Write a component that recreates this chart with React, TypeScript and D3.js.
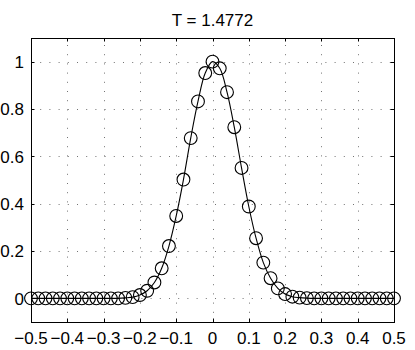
import React from "react";
import * as d3 from "d3";

const title = "T = 1.4772";

const xValues = [
  -0.5, -0.48, -0.46, -0.44, -0.42, -0.4, -0.38, -0.36, -0.34, -0.32, -0.3,
  -0.28, -0.26, -0.24, -0.22, -0.2, -0.18, -0.16, -0.14, -0.12, -0.1, -0.08,
  -0.06, -0.04, -0.02, 0, 0.02, 0.04, 0.06, 0.08, 0.1, 0.12, 0.14, 0.16, 0.18,
  0.2, 0.22, 0.24, 0.26, 0.28, 0.3, 0.32, 0.34, 0.36, 0.38, 0.4, 0.42, 0.44,
  0.46, 0.48, 0.5,
];

const yValues = [
  0, 0, 0, 0, 0, 0, 0, 0, 0, 0, 0, 0, 0, 0.002, 0.005, 0.014, 0.032, 0.067,
  0.127, 0.221, 0.348, 0.502, 0.677, 0.832, 0.952, 1.0, 0.972, 0.871, 0.723,
  0.551, 0.388, 0.254, 0.151, 0.085, 0.042, 0.018, 0.007, 0.003, 0.001, 0, 0,
  0, 0, 0, 0, 0, 0, 0, 0, 0, 0,
];

const xTicks = [-0.5, -0.4, -0.3, -0.2, -0.1, 0, 0.1, 0.2, 0.3, 0.4, 0.5];
const xTickLabels = ["−0.5", "−0.4", "−0.3", "−0.2", "−0.1", "0", "0.1", "0.2", "0.3", "0.4", "0.5"];
const yTicks = [0, 0.2, 0.4, 0.6, 0.8, 1];
const yTickLabels = ["0", "0.2", "0.4", "0.6", "0.8", "1"];

const xDomain = [-0.5, 0.5];
const yDomain = [-0.1, 1.1];

export default function App() {
  const W = 415;
  const H = 350;
  const left = 31;
  const right = 394;
  const top = 38;
  const bottom = 322;
  const font = "'Liberation Sans', Arial, Helvetica, sans-serif";
  const fs = 17;
  const tick = 3.5;

  const x = d3.scaleLinear().domain(xDomain).range([left, right]);
  const y = d3.scaleLinear().domain(yDomain).range([bottom, top]);

  const pts = xValues.map((xv, i) => [xv, yValues[i]] as [number, number]);
  const line = d3
    .line<[number, number]>()
    .x((d) => x(d[0]))
    .y((d) => y(d[1]))
    .curve(d3.curveCatmullRom.alpha(0.5));

  return (
    <svg
      width={W}
      height={H}
      style={{ position: "absolute", left: 0, top: 0, background: "#fff" }}
      fontFamily={font}
    >
      <rect x={0} y={0} width={W} height={H} fill="#fff" />
      {/* grid */}
      <g stroke="#444" strokeWidth={1} strokeDasharray="1 8.2" opacity={0.75}>
        {xTicks.map((t, i) => (
          <line key={"gx" + i} x1={Math.round(x(t)) + 0.5} x2={Math.round(x(t)) + 0.5} y1={bottom} y2={top} />
        ))}
        {yTicks.map((t, i) => (
          <line key={"gy" + i} x1={left} x2={right} y1={Math.round(y(t)) + 0.5} y2={Math.round(y(t)) + 0.5} />
        ))}
      </g>
      {/* ticks */}
      <g stroke="#000" strokeWidth={1}>
        {xTicks.map((t, i) => {
          const px = Math.round(x(t)) + 0.5;
          return (
            <g key={"tx" + i}>
              <line x1={px} x2={px} y1={bottom} y2={bottom - tick} />
              <line x1={px} x2={px} y1={top} y2={top + tick} />
            </g>
          );
        })}
        {yTicks.map((t, i) => {
          const py = Math.round(y(t)) + 0.5;
          return (
            <g key={"ty" + i}>
              <line x1={left} x2={left + tick} y1={py} y2={py} />
              <line x1={right} x2={right - tick} y1={py} y2={py} />
            </g>
          );
        })}
      </g>
      {/* data */}
      <path d={line(pts) || ""} fill="none" stroke="#000" strokeWidth={1.1} />
      <g fill="none" stroke="#000" strokeWidth={1.1}>
        {pts.map((d, i) => (
          <circle key={"c" + i} cx={x(d[0])} cy={y(d[1])} r={6.4} />
        ))}
      </g>
      {/* box */}
      <rect
        x={left + 0.5}
        y={top + 0.5}
        width={right - left}
        height={bottom - top}
        fill="none"
        stroke="#000"
        strokeWidth={1}
      />
      {/* labels */}
      <g fontSize={fs} fill="#000">
        {xTicks.map((t, i) => (
          <text key={"lx" + i} x={x(t)} y={344} textAnchor="middle">
            {xTickLabels[i]}
          </text>
        ))}
        {yTicks.map((t, i) => (
          <text key={"ly" + i} x={24} y={y(t) + 6.2} textAnchor="end">
            {yTickLabels[i]}
          </text>
        ))}
        <text x={(left + right) / 2} y={26} textAnchor="middle">
          {title}
        </text>
      </g>
    </svg>
  );
}
